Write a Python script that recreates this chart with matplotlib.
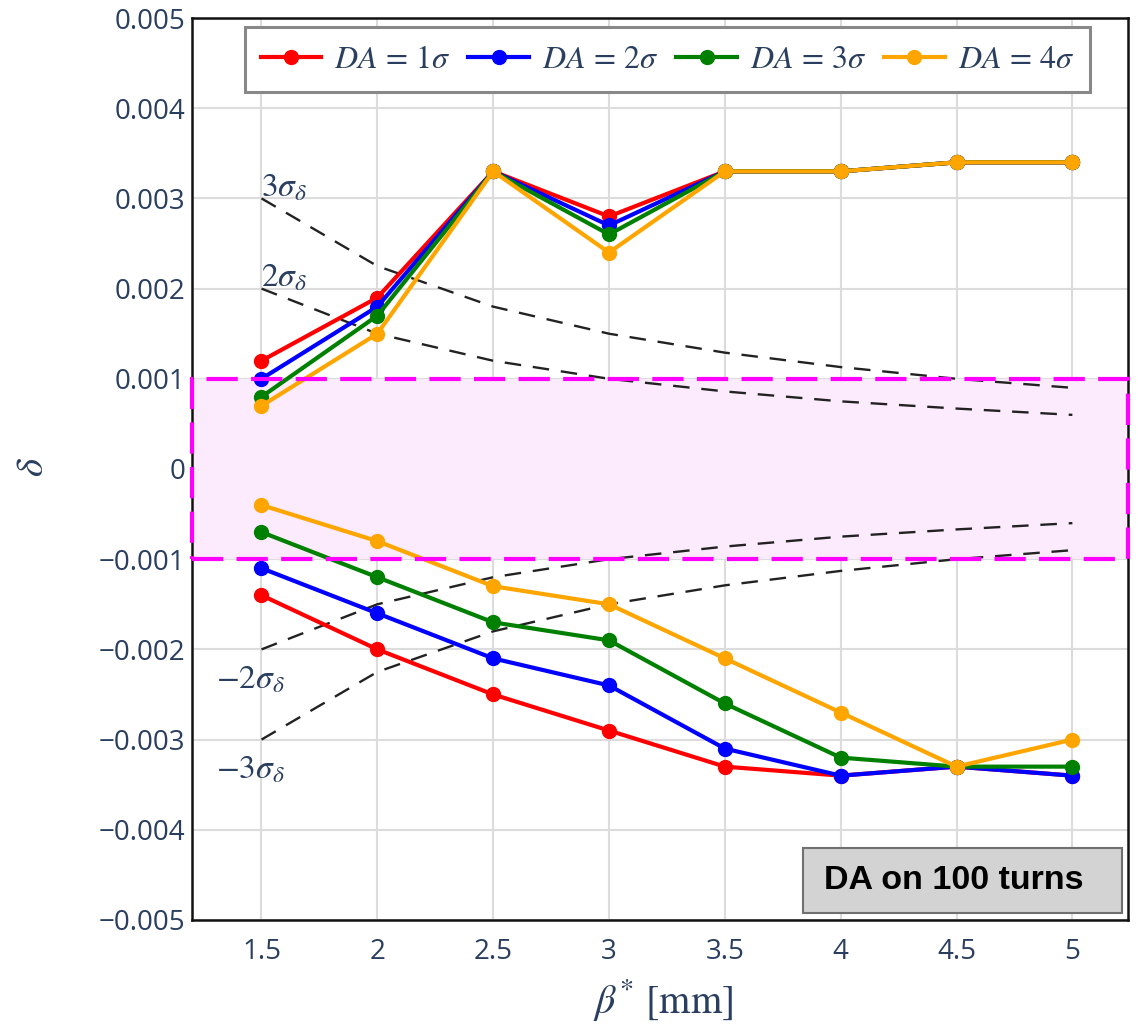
import matplotlib
matplotlib.use("Agg")
import matplotlib.pyplot as plt
from matplotlib.patches import Rectangle
import numpy as np

plt.rcParams['mathtext.fontset'] = 'stix'
plt.rcParams['font.family'] = ['Open Sans', 'DejaVu Sans']

beta = [1.5, 2, 2.5, 3, 3.5, 4, 4.5, 5]

# upper / lower momentum acceptance for each DA threshold
upper = {
    1: [0.0012, 0.0019, 0.0033, 0.0028, 0.0033, 0.0033, 0.0034, 0.0034],
    2: [0.0010, 0.0018, 0.0033, 0.0027, 0.0033, 0.0033, 0.0034, 0.0034],
    3: [0.0008, 0.0017, 0.0033, 0.0026, 0.0033, 0.0033, 0.0034, 0.0034],
    4: [0.0007, 0.0015, 0.0033, 0.0024, 0.0033, 0.0033, 0.0034, 0.0034],
}
lower = {
    1: [-0.0014, -0.0020, -0.0025, -0.0029, -0.0033, -0.0034, -0.0033, -0.0034],
    2: [-0.0011, -0.0016, -0.0021, -0.0024, -0.0031, -0.0034, -0.0033, -0.0034],
    3: [-0.0007, -0.0012, -0.0017, -0.0019, -0.0026, -0.0032, -0.0033, -0.0033],
    4: [-0.0004, -0.0008, -0.0013, -0.0015, -0.0021, -0.0027, -0.0033, -0.0030],
}
colors = {1: '#ff0000', 2: '#0000ff', 3: '#008000', 4: '#ffa500'}

# energy spread envelopes
sig3 = [0.003, 0.00225, 0.0018, 0.0015, 0.00129, 0.00113, 0.0010, 0.0009]
sig2 = [0.002, 0.0015, 0.0012, 0.0010, 0.00086, 0.00075, 0.00067, 0.0006]

ink = '#2a3f5f'

fig = plt.figure(figsize=(11.38, 10.24), dpi=100)
ax = fig.add_axes([0.1687, 0.1016, 0.9912 - 0.1687, 0.9824 - 0.1016])

ax.set_xlim(1.2, 5.24)
ax.set_ylim(-0.005, 0.005)
ax.set_xticks(beta)
ax.set_xticklabels(['1.5', '2', '2.5', '3', '3.5', '4', '4.5', '5'])
yt = np.arange(-0.005, 0.0051, 0.001)
ax.set_yticks(yt)
ax.set_yticklabels(['\u22120.005', '\u22120.004', '\u22120.003', '\u22120.002', '\u22120.001',
                    '0', '0.001', '0.002', '0.003', '0.004', '0.005'])
ax.tick_params(length=0, labelsize=20, labelcolor=ink)
ax.tick_params(axis='x', pad=13)
ax.tick_params(axis='y', pad=5)
ax.grid(True, color='#dcdcdc', lw=1.5)
ax.set_axisbelow(True)
for s in ax.spines.values():
    s.set_color('#111111')
    s.set_linewidth(1.8)

# acceptance band
ax.add_patch(Rectangle((1.2, -0.001), 4.04, 0.002, facecolor='#fcebfc', edgecolor='none', zorder=1.5))
ax.add_patch(Rectangle((1.2, -0.001), 4.04, 0.002, facecolor='none', edgecolor='#ff00ff',
                       lw=3, ls=(0, (7.5, 3.2)), zorder=5, clip_on=False))

for env in (sig3, sig2):
    ax.plot(beta, env, color='#222222', lw=1.7, dashes=(7, 5), zorder=3)
    ax.plot(beta, [-v for v in env], color='#222222', lw=1.7, dashes=(7, 5), zorder=3)

for k in (1, 2, 3, 4):
    ax.plot(beta, upper[k], color=colors[k], lw=3, marker='o', ms=10,
            label=r'$DA\,=\,%d\sigma$' % k, zorder=4)
    ax.plot(beta, lower[k], color=colors[k], lw=3, marker='o', ms=10, zorder=4)

ax.text(1.5, 0.00312, r'$3\sigma_\delta$', color=ink, fontsize=24, ha='left', va='center')
ax.text(1.5, 0.00212, r'$2\sigma_\delta$', color=ink, fontsize=24, ha='left', va='center')
ax.text(1.6, -0.00234, r'$-2\sigma_\delta$', color=ink, fontsize=24, ha='right', va='center')
ax.text(1.6, -0.00334, r'$-3\sigma_\delta$', color=ink, fontsize=24, ha='right', va='center')

leg = ax.legend(loc='upper center', bbox_to_anchor=(0.508, 0.990), ncol=4, fontsize=23,
                frameon=True, fancybox=False, handlelength=1.9, handletextpad=0.4,
                columnspacing=0.55, borderpad=0.5, borderaxespad=0, labelcolor=ink)
leg.get_frame().set_edgecolor('#888888')
leg.get_frame().set_linewidth(2.2)
leg.get_frame().set_alpha(1)

ax.add_patch(Rectangle((0.653, 0.0078), 0.3406, 0.072, transform=ax.transAxes,
                       facecolor='#d3d3d3', edgecolor='#707070', lw=1.5, zorder=6))
ax.text(0.675, 0.0438, 'DA on 100 turns', transform=ax.transAxes, fontsize=24.5,
        fontweight='bold', family=['Liberation Sans', 'DejaVu Sans'], color='black',
        ha='left', va='center', zorder=7)

fig.text(0.583, 0.023, r'$\beta^{*}$ [mm]', fontsize=29, color=ink, ha='center', va='center',
         family='STIXGeneral')
fig.text(0.029, 0.544, r'$\delta$', fontsize=28, color=ink, ha='center', va='center', rotation=90)

fig.savefig('out.png', dpi=100)
